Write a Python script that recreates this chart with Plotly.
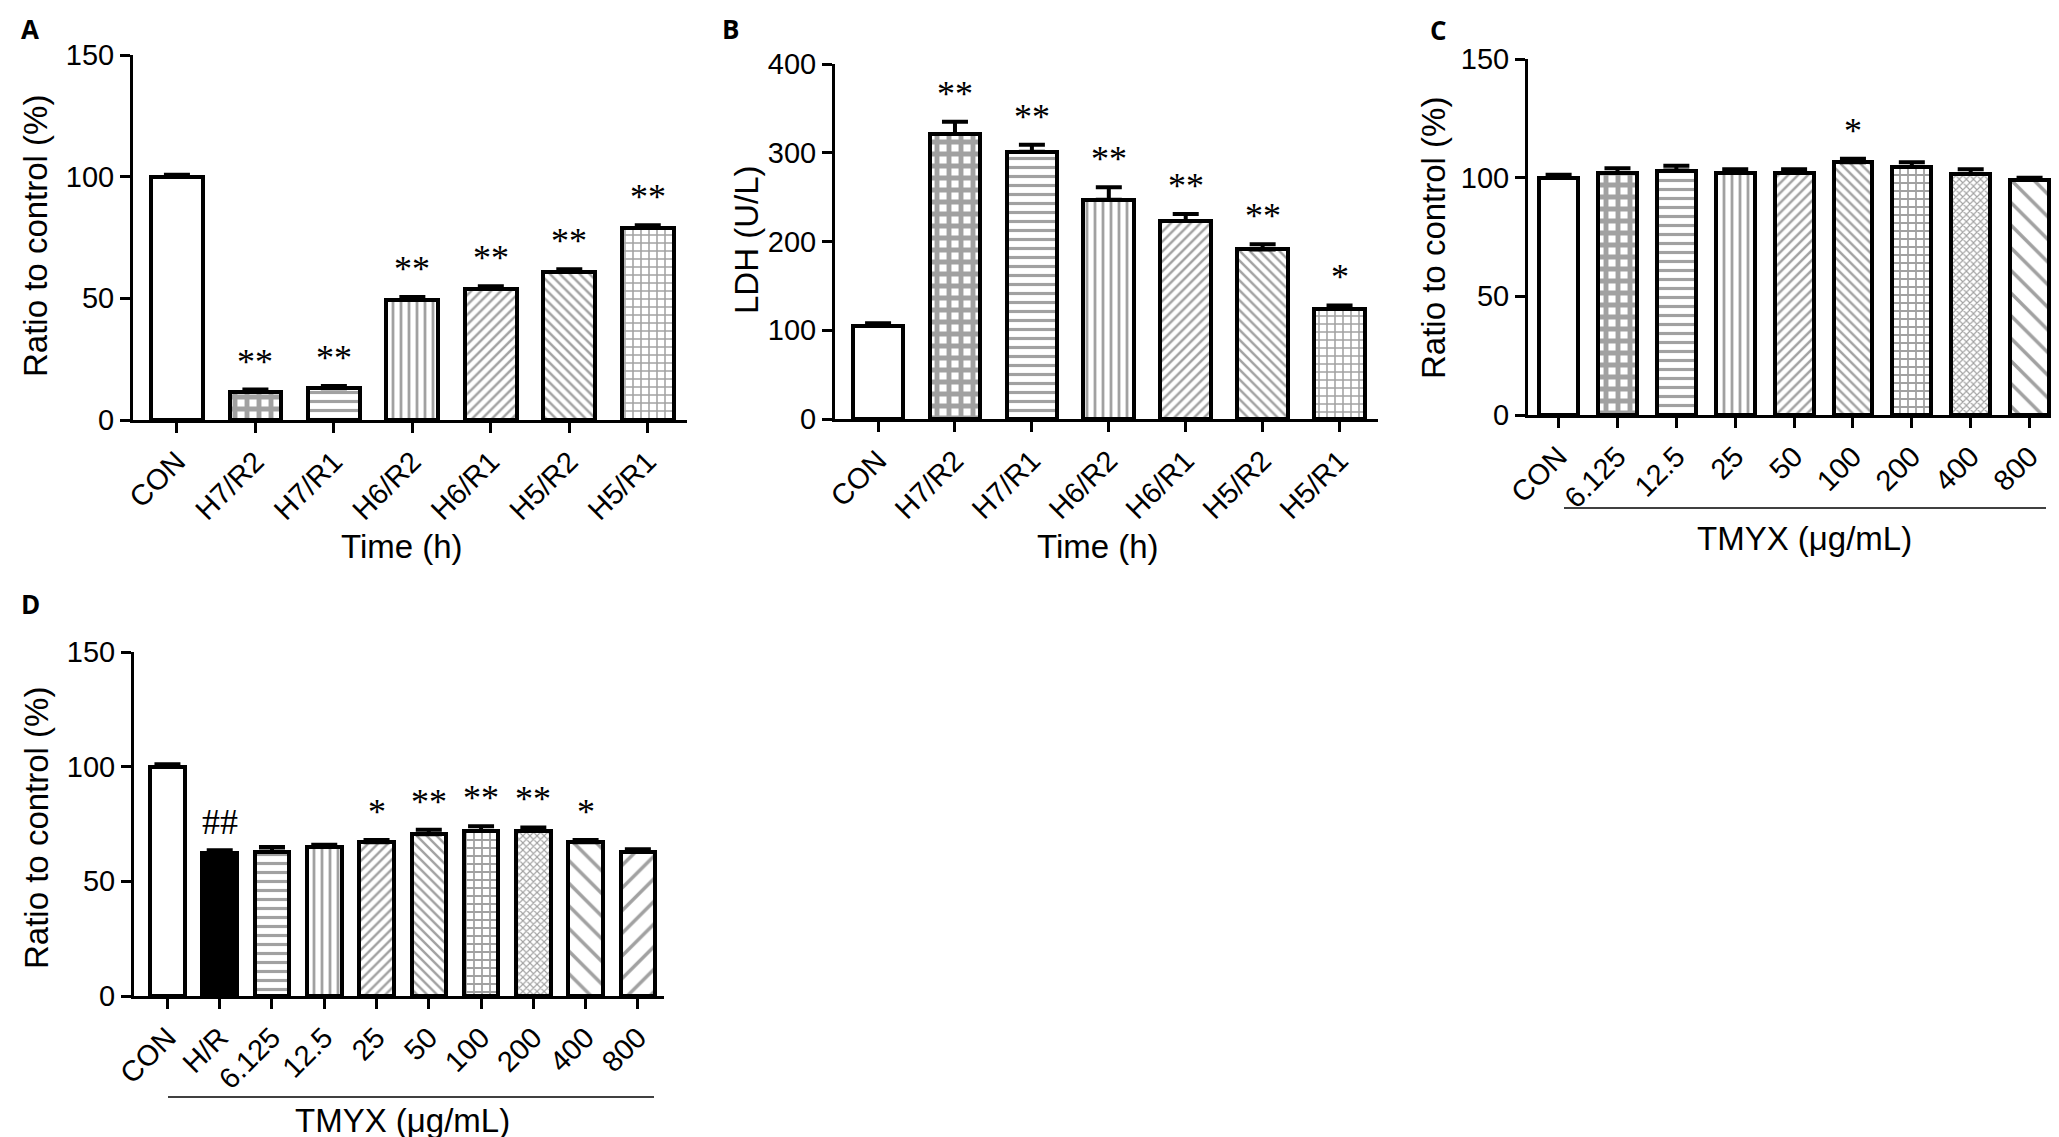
import plotly.graph_objects as go

# ---- data ----
time_groups = ["CON", "H7/R2", "H7/R1", "H6/R2", "H6/R1", "H5/R2", "H5/R1"]
ratio_a = [100, 11.5, 13, 49.5, 54, 61, 79]
ratio_a_err = [0.8, 1, 1, 1, 1, 1, 1]
marks_a = ["", "**", "**", "**", "**", "**", "**"]

ldh_b = [105, 321, 301, 247, 223, 191, 124]
ldh_b_err = [3, 14, 8, 14, 8, 6, 4]
marks_b = ["", "**", "**", "**", "**", "**", "*"]

dose_c = ["CON", "6.125", "12.5", "25", "50", "100", "200", "400", "800"]
ratio_c = [100, 102, 103, 102, 102, 106.5, 104.5, 101.5, 99]
ratio_c_err = [1.2, 2, 2, 1.5, 1.5, 1.5, 2, 2, 1]
marks_c = ["", "", "", "", "", "*", "", "", ""]

dose_d = ["CON", "H/R", "6.125", "12.5", "25", "50", "100", "200", "400", "800"]
ratio_d = [100, 62.5, 63, 65, 67, 70.5, 72, 72, 67, 63]
ratio_d_err = [1, 1, 2, 1, 1, 2, 2, 1.5, 1, 1]
marks_d = ["", "##", "", "", "*", "**", "**", "**", "*", ""]

# fill styles per bar (shape, size, solidity, colour)
pat_time = [("", 8, 0.3, "white"), ("+", 12, 0.65, "white"), ("-", 9, 0.35, "white"),
            ("|", 8, 0.35, "white"), ("/", 7, 0.35, "white"), ("\\", 7, 0.35, "white"),
            ("+", 8, 0.35, "white")]
pat_c = [("", 8, 0.3, "white"), ("+", 12, 0.65, "white"), ("-", 9, 0.35, "white"),
         ("|", 8, 0.35, "white"), ("/", 7, 0.35, "white"), ("\\", 7, 0.35, "white"),
         ("+", 8, 0.4, "white"), ("x", 5, 0.4, "white"), ("\\", 16, 0.22, "white")]
pat_d = [("", 8, 0.3, "white"), ("", 8, 0.3, "black"), ("-", 9, 0.35, "white"),
         ("|", 8, 0.35, "white"), ("/", 7, 0.35, "white"), ("\\", 7, 0.35, "white"),
         ("+", 8, 0.4, "white"), ("x", 5, 0.4, "white"), ("\\", 16, 0.22, "white"),
         ("/", 16, 0.22, "white")]

W, H = 2059, 1137
SANS = "Liberation Sans, Arial, sans-serif"
TICKFONT = dict(family=SANS, size=29, color="black")
TITLEFONT = dict(family=SANS, size=33, color="black")
STARFONT = dict(family="Liberation Serif, Times New Roman, serif", size=36, color="black")

fig = go.Figure()


def px_x(p):
    return p / W


def px_y(p):
    return 1 - p / H


panels = [
    # cats, vals, errs, marks, pats, x px range, y px (top, zero), ymax, dtick, xrange
    (time_groups, ratio_a, ratio_a_err, marks_a, pat_time, (125, 679), (47, 412), 150, 50, [-0.56, 6.5]),
    (time_groups, ldh_b, ldh_b_err, marks_b, pat_time, (827, 1370), (56, 411), 400, 100, [-0.56, 6.5]),
    (dose_c, ratio_c, ratio_c_err, marks_c, pat_c, (1520, 2051), (51, 407), 150, 50, [-0.52, 8.5]),
    (dose_d, ratio_d, ratio_d_err, marks_d, pat_d, (126, 656), (644, 988), 150, 50, [-0.64, 9.5]),
]

for i, (cats, vals, errs, marks, pats, xr, yr, ymax, dtick, xrange_) in enumerate(panels):
    n = i + 1
    xa = "x" if n == 1 else f"x{n}"
    ya = "y" if n == 1 else f"y{n}"
    fig.add_trace(go.Bar(
        x=list(range(len(cats))), y=vals, width=0.66,
        xaxis=xa, yaxis=ya,
        marker=dict(
            color=[p[3] for p in pats],
            line=dict(color="black", width=4),
            pattern=dict(shape=[p[0] for p in pats], size=[p[1] for p in pats],
                         solidity=[p[2] for p in pats], fgcolor="black",
                         fillmode="overlay"),
        ),
        error_y=dict(type="data", array=errs, arrayminus=[0] * len(errs), symmetric=False,
                     color="black", thickness=4, width=13),
        showlegend=False, hoverinfo="skip",
    ))
    axis_common = dict(showline=True, linecolor="black", linewidth=3, ticks="outside",
                       ticklen=10, tickwidth=3, tickcolor="black", showgrid=False,
                       zeroline=False, tickfont=TICKFONT, automargin=False)
    fig.layout[f"xaxis{'' if n == 1 else n}"] = dict(
        domain=[px_x(xr[0]), px_x(xr[1])], anchor=ya, range=xrange_,
        tickmode="array", tickvals=list(range(len(cats))), ticktext=cats,
        tickangle=-45, **axis_common)
    fig.layout[f"yaxis{'' if n == 1 else n}"] = dict(
        domain=[px_y(yr[1]), px_y(yr[0])], anchor=xa, range=[0, ymax],
        tickmode="linear", tick0=0, dtick=dtick, **axis_common)
    for k, m in enumerate(marks):
        if m:
            fig.add_annotation(x=k, y=vals[k] + errs[k], xref=xa, yref=ya, text=m,
                               showarrow=False, yanchor="bottom", yshift=6,
                               font=STARFONT)


def paper_text(x, y, text, angle=0, font=TITLEFONT):
    fig.add_annotation(x=px_x(x), y=px_y(y), text=text, textangle=angle,
                       xref="paper", yref="paper", xanchor="center", yanchor="middle",
                       showarrow=False, font=font)


# axis titles
paper_text(28, 228, "Ratio to control (%)", -90)
paper_text(738, 232, "LDH (U/L)", -90)
paper_text(1426, 230, "Ratio to control (%)", -90)
paper_text(28, 820, "Ratio to control (%)", -90)
paper_text(394, 538, "Time (h)")
paper_text(1090, 538, "Time (h)")
paper_text(1796, 530, "TMYX (μg/mL)")
paper_text(394, 1112, "TMYX (μg/mL)")

# group underlines
fig.add_shape(type="line", xref="paper", yref="paper", x0=px_x(1556), x1=px_x(2038),
              y0=px_y(500), y1=px_y(500), line=dict(color="black", width=1.5))
fig.add_shape(type="line", xref="paper", yref="paper", x0=px_x(160), x1=px_x(646),
              y0=px_y(1089), y1=px_y(1089), line=dict(color="black", width=1.5))

# panel letters
LETTERFONT = dict(family="Open Sans, Noto Sans, sans-serif", size=26, color="black")
for letter, lx, ly in [("A", 22, 21), ("B", 722, 21), ("C", 1430, 22), ("D", 22, 596)]:
    paper_text(lx, ly, f"<b>{letter}</b>", font=LETTERFONT)

fig.update_layout(width=W, height=H, margin=dict(l=0, r=0, t=0, b=0),
                  plot_bgcolor="white", paper_bgcolor="white", bargap=0)

fig.write_html("out.html")
